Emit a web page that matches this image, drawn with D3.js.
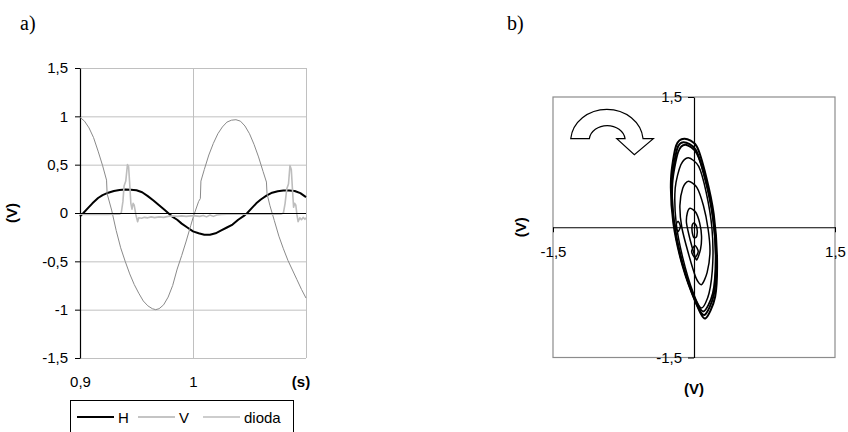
<!DOCTYPE html>
<html>
<head>
<meta charset="utf-8">
<script src="https://cdn.jsdelivr.net/npm/d3@7"></script>
<style>
  html, body { margin: 0; padding: 0; background: #fff; }
  svg { display: block; }
  text { font-family: "Liberation Sans", Arial, sans-serif; }
</style>
</head>
<body>
<svg id="chart" width="848" height="432"></svg>
<script>
// ---- Panel a: time signals (t in s, values in V) ----
const hTime = [0.900,0.903,0.907,0.911,0.916,0.920,0.925,0.930,0.935,0.940,0.945,0.950,0.955,0.960,0.965,0.970,0.975,0.978,0.982,0.986,0.990,0.995,1.000,1.005,1.010,1.015,1.020,1.025,1.030,1.035,1.040,1.045,1.048,1.052,1.056,1.060,1.065,1.070,1.075,1.080,1.085,1.090,1.095,1.100];
const hValues = [-0.035,0.0,0.05,0.10,0.155,0.185,0.21,0.228,0.238,0.242,0.24,0.235,0.215,0.175,0.13,0.08,0.03,0.0,-0.04,-0.07,-0.11,-0.15,-0.19,-0.21,-0.225,-0.225,-0.21,-0.18,-0.15,-0.12,-0.07,-0.03,0.0,0.05,0.10,0.14,0.18,0.21,0.225,0.232,0.233,0.228,0.205,0.165];

const vTime = [0.900,0.904,0.908,0.912,0.916,0.920,0.9235,0.9240,0.928,0.932,0.936,0.940,0.944,0.948,0.952,0.956,0.960,0.964,0.967,0.970,0.974,0.978,0.982,0.986,0.990,0.994,0.998,1.000,1.002,1.005,1.0065,1.0070,1.010,1.014,1.018,1.022,1.026,1.030,1.034,1.038,1.042,1.046,1.050,1.054,1.058,1.062,1.065,1.0655,1.068,1.072,1.076,1.080,1.084,1.088,1.092,1.096,1.100];
const vValues = [0.99,0.95,0.88,0.78,0.64,0.49,0.34,0.20,0.03,-0.18,-0.36,-0.50,-0.63,-0.74,-0.83,-0.91,-0.96,-0.99,-1.0,-0.99,-0.95,-0.87,-0.75,-0.58,-0.44,-0.29,-0.13,-0.05,0.02,0.12,0.15,0.33,0.45,0.60,0.72,0.82,0.89,0.94,0.96,0.965,0.95,0.90,0.82,0.71,0.58,0.43,0.32,0.20,0.08,-0.08,-0.24,-0.37,-0.49,-0.59,-0.69,-0.79,-0.88];

const diodaTime = [0.900,0.905,0.910,0.915,0.920,0.925,0.930,0.935,0.9365,0.938,0.939,0.9405,0.942,0.943,0.944,0.945,0.946,0.947,0.948,0.9495,0.951,0.952,0.9545,0.957,0.960,0.963,0.966,0.970,0.974,0.978,0.982,0.986,0.990,0.994,0.998,1.002,1.006,1.009,1.012,1.015,1.018,1.021,1.025,1.030,1.040,1.050,1.060,1.070,1.078,1.080,1.0815,1.083,1.0845,1.0858,1.087,1.088,1.089,1.090,1.091,1.092,1.093,1.0945,1.096,1.0975,1.099,1.100];
const diodaValues = [-0.012,-0.016,-0.012,-0.016,-0.012,-0.014,-0.012,-0.012,0.0,0.12,0.28,0.33,0.50,0.48,0.30,0.10,0.04,0.10,0.08,-0.02,-0.09,-0.05,-0.055,-0.045,-0.05,-0.04,-0.048,-0.04,-0.045,-0.035,-0.03,-0.035,-0.03,-0.035,-0.03,-0.03,-0.035,-0.025,-0.04,-0.02,-0.035,-0.02,-0.016,-0.012,-0.012,-0.012,-0.012,-0.012,-0.012,0.0,0.10,0.25,0.30,0.49,0.45,0.25,0.06,0.10,0.08,-0.02,-0.09,-0.05,-0.07,-0.045,-0.065,-0.05];

const aYTicks = [-1.5,-1,-0.5,0,0.5,1,1.5];
const aXTicks = [0.9,1];
const legendNames = ["H","V","dioda"];

// ---- Panel b: V against H, loops of the growing orbit ----
const loopOuter1 = [[-0.10,1.02],[0.03,0.93],[0.13,0.58],[0.21,0.15],[0.245,-0.35],[0.225,-0.8],[0.12,-1.05],[0.02,-0.87],[-0.12,-0.45],[-0.22,0.05],[-0.245,0.55],[-0.19,0.94]];
const loopOuter2 = [[-0.11,0.98],[0.02,0.89],[0.12,0.55],[0.20,0.12],[0.235,-0.35],[0.21,-0.78],[0.11,-1.01],[0.01,-0.84],[-0.12,-0.42],[-0.21,0.05],[-0.235,0.52],[-0.18,0.90]];
const loopOuter3 = [[-0.09,0.95],[0.03,0.85],[0.13,0.52],[0.205,0.10],[0.23,-0.36],[0.20,-0.76],[0.10,-0.97],[0.0,-0.80],[-0.13,-0.40],[-0.215,0.06],[-0.23,0.50],[-0.17,0.86]];
const loopOuter4 = [[-0.06,0.80],[0.05,0.70],[0.13,0.40],[0.19,0.0],[0.20,-0.40],[0.16,-0.76],[0.08,-0.93],[-0.01,-0.75],[-0.12,-0.35],[-0.19,0.05],[-0.20,0.45],[-0.14,0.72]];
const loopMiddle = [[-0.06,0.53],[0.03,0.46],[0.10,0.25],[0.15,-0.02],[0.17,-0.28],[0.14,-0.52],[0.08,-0.66],[0.02,-0.58],[-0.06,-0.30],[-0.13,0.0],[-0.15,0.25],[-0.12,0.45]];
const loopInner = [[-0.04,0.22],[0.02,0.17],[0.06,0.05],[0.08,-0.10],[0.07,-0.25],[0.03,-0.375],[0.0,-0.30],[-0.04,-0.15],[-0.08,0.05],[-0.07,0.17]];
const loopCore = [[0.0,0.05],[0.03,0.0],[0.03,-0.10],[0.0,-0.12],[-0.02,-0.05],[-0.02,0.02]];
const loopLeft = [[-0.17,0.07],[-0.145,0.01],[-0.17,-0.05],[-0.195,0.01]];
const loopLow = [[0.01,-0.21],[0.045,-0.28],[0.01,-0.35],[-0.025,-0.28]];
const hvLoops = [
  {pts: loopOuter1, w: 2}, {pts: loopOuter2, w: 2}, {pts: loopOuter3, w: 1.8},
  {pts: loopOuter4, w: 1.5}, {pts: loopMiddle, w: 1.5}, {pts: loopInner, w: 1.5},
  {pts: loopCore, w: 1.5}, {pts: loopLeft, w: 1.5}, {pts: loopLow, w: 1.5}
];
const bTicks = [-1.5, 1.5];

const fmt = d => String(d).replace(".", ",");
const svg = d3.select("#chart");
const FS = "15px";

// ================= Panel a =================
const xA = d3.scaleLinear().domain([0.9, 1.1]).range([80, 306]);
const yA = d3.scaleLinear().domain([-1.5, 1.5]).range([358, 68]);
const gA = svg.append("g");

gA.append("text").attr("x", 20).attr("y", 30)
  .style("font-family", "'Liberation Serif', 'Times New Roman', serif")
  .style("font-size", "20px").text("a)");

// grid
gA.selectAll("line.hgrid").data(aYTicks.filter(d => d !== 0)).join("line")
  .attr("x1", xA(0.9)).attr("x2", xA(1.1))
  .attr("y1", d => yA(d) + 0.5).attr("y2", d => yA(d) + 0.5)
  .attr("stroke", "#c0c0c0").attr("stroke-width", 1);
gA.selectAll("line.vgrid").data([1, 1.1]).join("line")
  .attr("x1", d => Math.round(xA(d)) + 0.5).attr("x2", d => Math.round(xA(d)) + 0.5)
  .attr("y1", yA(1.5)).attr("y2", yA(-1.5))
  .attr("stroke", "#c0c0c0").attr("stroke-width", 1);

// y axis
const yAxisA = gA.append("g").attr("transform", `translate(${xA(0.9)},0)`)
  .call(d3.axisLeft(yA).tickValues(aYTicks).tickFormat(fmt).tickSize(5).tickPadding(7).tickSizeOuter(0));
yAxisA.select(".domain").attr("stroke", "#000").attr("stroke-width", 1.2);
yAxisA.selectAll("text").style("font-size", FS).style("font-family", "'Liberation Sans', Arial, sans-serif").attr("fill", "#000");

// x tick labels (low position)
const xAxisA = gA.append("g").attr("transform", `translate(0,${yA(-1.5)})`)
  .call(d3.axisBottom(xA).tickValues(aXTicks).tickFormat(fmt).tickSize(0).tickPadding(18));
xAxisA.select(".domain").remove();
xAxisA.selectAll("text").style("font-size", FS).style("font-family", "'Liberation Sans', Arial, sans-serif").attr("fill", "#000");

gA.append("text").attr("x", 301).attr("y", 387).attr("text-anchor", "middle")
  .style("font-size", FS).style("font-weight", "bold").text("(s)");
gA.append("text").attr("transform", `translate(17,${yA(0)}) rotate(-90)`).attr("text-anchor", "middle")
  .style("font-size", FS).style("font-weight", "bold").text("(V)");

// series
const lineA = d3.line().x(d => xA(d[0])).y(d => yA(d[1]));
const seriesA = [
  {name: "H", t: hTime, v: hValues, color: "#000", w: 2},
  {name: "V", t: vTime, v: vValues, color: "#8a8a8a", w: 1},
  {name: "dioda", t: diodaTime, v: diodaValues, color: "#bdbdbd", w: 1.6}
];
gA.selectAll("path.series").data(seriesA).join("path")
  .attr("class", "series")
  .attr("d", s => lineA(s.t.map((t, i) => [t, s.v[i]])))
  .attr("fill", "none").attr("stroke", s => s.color).attr("stroke-width", s => s.w)
  .attr("stroke-linejoin", "round");

// horizontal axis line at 0
gA.append("line").attr("x1", xA(0.9)).attr("x2", xA(1.1))
  .attr("y1", yA(0) + 0.5).attr("y2", yA(0) + 0.5)
  .attr("stroke", "#000").attr("stroke-width", 1.3).attr("shape-rendering", "crispEdges");

// legend
const leg = gA.append("g").attr("transform", "translate(70,400)");
leg.append("rect").attr("x", 0.5).attr("y", 0.5).attr("width", 223).attr("height", 40)
  .attr("fill", "#fff").attr("stroke", "#000");
const legX = [7, 68, 133];
seriesA.forEach((s, i) => {
  leg.append("line").attr("x1", legX[i]).attr("x2", legX[i] + 37).attr("y1", 17).attr("y2", 17)
    .attr("stroke", s.color).attr("stroke-width", s.w === 1 ? 1.2 : s.w);
  leg.append("text").attr("x", legX[i] + 41).attr("y", 22.5).style("font-size", FS).text(legendNames[i]);
});

// ================= Panel b =================
const xB = d3.scaleLinear().domain([-1.5, 1.5]).range([553, 835]);
const yB = d3.scaleLinear().domain([-1.5, 1.5]).range([357.5, 97]);
const gB = svg.append("g");

gB.append("text").attr("x", 507).attr("y", 30)
  .style("font-family", "'Liberation Serif', 'Times New Roman', serif")
  .style("font-size", "20px").text("b)");

gB.append("rect").attr("x", xB(-1.5)).attr("y", yB(1.5))
  .attr("width", xB(1.5) - xB(-1.5)).attr("height", yB(-1.5) - yB(1.5))
  .attr("fill", "none").attr("stroke", "#8c8c8c").attr("stroke-width", 1.2);

// axes through the origin
const yAxisB = gB.append("g").attr("transform", `translate(${xB(0)},0)`)
  .call(d3.axisLeft(yB).tickValues(bTicks).tickFormat(fmt).tickSize(6).tickPadding(6).tickSizeOuter(0));
const xAxisB = gB.append("g").attr("transform", `translate(0,${yB(0)})`)
  .call(d3.axisBottom(xB).tickValues(bTicks).tickFormat(fmt).tickSize(5).tickPadding(14).tickSizeOuter(0));
[yAxisB, xAxisB].forEach(ax => {
  ax.select(".domain").attr("stroke", "#000").attr("stroke-width", 1.2);
  ax.selectAll("text").style("font-size", FS).style("font-family", "'Liberation Sans', Arial, sans-serif").attr("fill", "#000");
});

gB.append("text").attr("transform", `translate(526,${yB(0)}) rotate(-90)`).attr("text-anchor", "middle")
  .style("font-size", FS).style("font-weight", "bold").text("(V)");
gB.append("text").attr("x", xB(0)).attr("y", 394).attr("text-anchor", "middle")
  .style("font-size", FS).style("font-weight", "bold").text("(V)");

// loops of V versus H
const lineB = d3.line().x(d => xB(d[0])).y(d => yB(d[1])).curve(d3.curveCardinalClosed.tension(0.2));
gB.selectAll("path.loop").data(hvLoops).join("path")
  .attr("class", "loop").attr("d", d => lineB(d.pts))
  .attr("fill", "none").attr("stroke", "#000").attr("stroke-width", d => d.w);

// clockwise direction arrow
const ax0 = xB(-0.925), ay0 = yB(1.02);
gB.append("path")
  .attr("transform", `translate(${ax0},${ay0})`)
  .attr("d", "M-36.3,0 A36.3,32.3 0 0 1 36,0 L46.3,0 L27.3,16 L9.7,0 L18,0 A18,15 0 0 0 -17.7,0 Z")
  .attr("fill", "#fff").attr("stroke", "#000").attr("stroke-width", 1.2);
</script>
</body>
</html>
